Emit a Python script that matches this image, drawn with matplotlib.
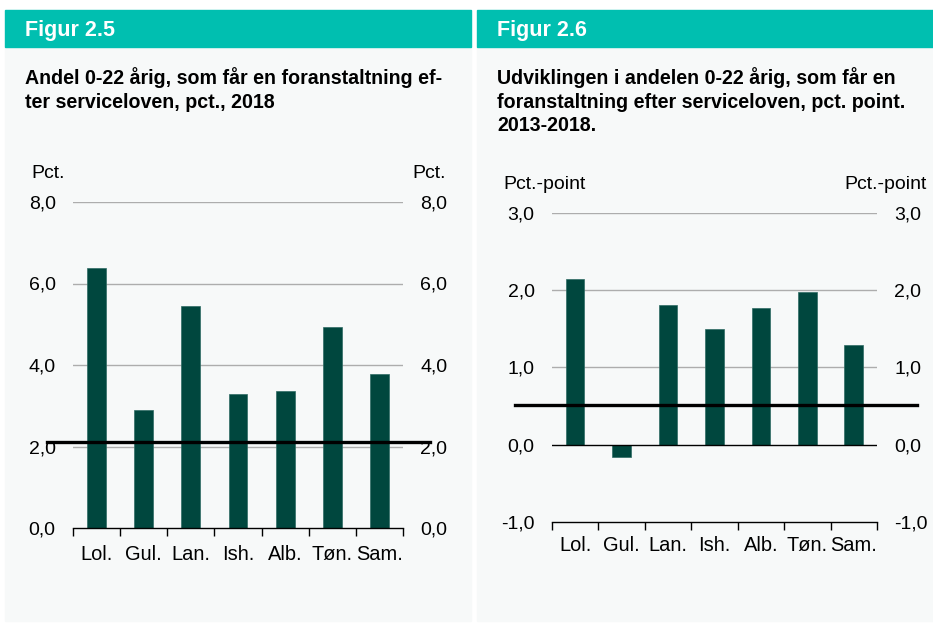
import matplotlib
matplotlib.use("Agg")
import matplotlib.pyplot as plt
from matplotlib.patches import Rectangle
from matplotlib.ticker import FixedLocator, NullFormatter, FuncFormatter

plt.rcParams['font.family'] = ['Liberation Sans', 'DejaVu Sans']

# ---- data ----
categories = ["Lol.", "Gul.", "Lan.", "Ish.", "Alb.", "Tøn.", "Sam."]
share_2018 = [6.39, 2.89, 5.46, 3.28, 3.35, 4.93, 3.77]
share_avg = 2.12
change_13_18 = [2.14, -0.16, 1.80, 1.50, 1.77, 1.97, 1.29]
change_avg = 0.51

left_header = "Figur 2.5"
right_header = "Figur 2.6"
left_title = ["Andel 0-22 årig, som får en foranstaltning ef-",
              "ter serviceloven, pct., 2018"]
right_title = ["Udviklingen i andelen 0-22 årig, som får en",
               "foranstaltning efter serviceloven, pct. point.",
               "2013-2018."]
left_unit = "Pct."
right_unit = "Pct.-point"
left_ticks = [0, 2, 4, 6, 8]
right_ticks = [-1, 0, 1, 2, 3]

W, H = 933, 623
fig = plt.figure(figsize=(W / 100, H / 100), dpi=100)
fig.patch.set_facecolor("white")

TEAL = "#00BFB0"
BG = "#F7F9F9"
BAR = "#00473E"
GRID = "#ADADAD"


def fx(x):
    return x / W


def fy(y):
    return 1 - y / H


def rect(x0, y0, x1, y1, color):
    fig.patches.append(Rectangle((fx(x0), fy(y1)), (x1 - x0) / W, (y1 - y0) / H,
                                 transform=fig.transFigure, color=color, zorder=-10))


def txt(x, y, s, **kw):
    fig.text(fx(x), fy(y), s, va="baseline", **kw)


# panels
rect(5, 47, 470.5, 621, BG)
rect(5, 10, 470.5, 47, TEAL)
rect(477, 47, 933, 621, BG)
rect(477, 10, 933, 47, TEAL)

txt(25, 36, left_header, color="white", fontsize=15.5, fontweight="bold")
txt(497, 36, right_header, color="white", fontsize=15.5, fontweight="bold")

for i, line in enumerate(left_title):
    txt(25, 84 + i * 23.5, line, fontsize=14.1, fontweight="bold", color="black")
for i, line in enumerate(right_title):
    txt(497, 84 + i * 23.5, line, fontsize=14.1, fontweight="bold", color="black")

txt(31, 178, left_unit, fontsize=14)
txt(446, 178, left_unit, fontsize=14, ha="right")
txt(503, 189, right_unit, fontsize=14)
txt(927, 189, right_unit, fontsize=14, ha="right")

fmt = FuncFormatter(lambda v, p: f"{v:.1f}".replace(".", ","))


def make_axes(x0, x1, ytop, ybot, values, ticks, avg, avg_x0, avg_x1, xpad):
    ax = fig.add_axes([fx(x0), fy(ybot), (x1 - x0) / W, (ybot - ytop) / H])
    ax.set_facecolor("none")
    n = len(values)
    xs = list(range(n))
    ax.bar(xs, values, width=0.4, color=BAR, edgecolor="#2E6B63", linewidth=0.5, zorder=3)
    ax.set_xlim(-0.5, n - 0.5)
    ax.set_ylim(ticks[0], ticks[-1])
    for sp in ["top", "left", "right"]:
        ax.spines[sp].set_visible(False)
    ax.spines["bottom"].set_color("black")
    ax.spines["bottom"].set_linewidth(1.0)
    ax.spines["bottom"].set_zorder(4)
    # grid lines
    for t in ticks[1:]:
        if t == 0:
            ax.axhline(0, color="black", lw=1.0, zorder=4)
        else:
            ax.axhline(t, color=GRID, lw=1.0, zorder=1)
    # y ticks both sides
    ax.yaxis.set_major_locator(FixedLocator(ticks))
    ax.yaxis.set_major_formatter(fmt)
    ax.tick_params(axis="y", length=0, pad=12.5, labelsize=14,
                   left=False, right=False, labelleft=True, labelright=True)
    # x ticks
    ax.xaxis.set_major_locator(FixedLocator([i - 0.5 for i in range(n + 1)]))
    ax.xaxis.set_major_formatter(NullFormatter())
    ax.set_xticks(xs, categories, minor=True)
    ax.tick_params(axis="x", which="major", length=5.5, width=1.0, direction="out", color="black")
    ax.tick_params(axis="x", which="minor", length=0, pad=xpad, labelsize=14.4)
    # average line
    w = x1 - x0
    ax.axhline(avg, xmin=(avg_x0 - x0) / w, xmax=(avg_x1 - x0) / w,
               color="black", lw=2.4, zorder=5, clip_on=False)
    return ax


make_axes(73, 403, 202, 528, share_2018, left_ticks, share_avg, 47, 430, 12)
make_axes(552, 877, 212.7, 521.8, change_13_18, right_ticks, change_avg, 515, 917, 10)

fig.savefig("out.png", dpi=100, facecolor="white")
